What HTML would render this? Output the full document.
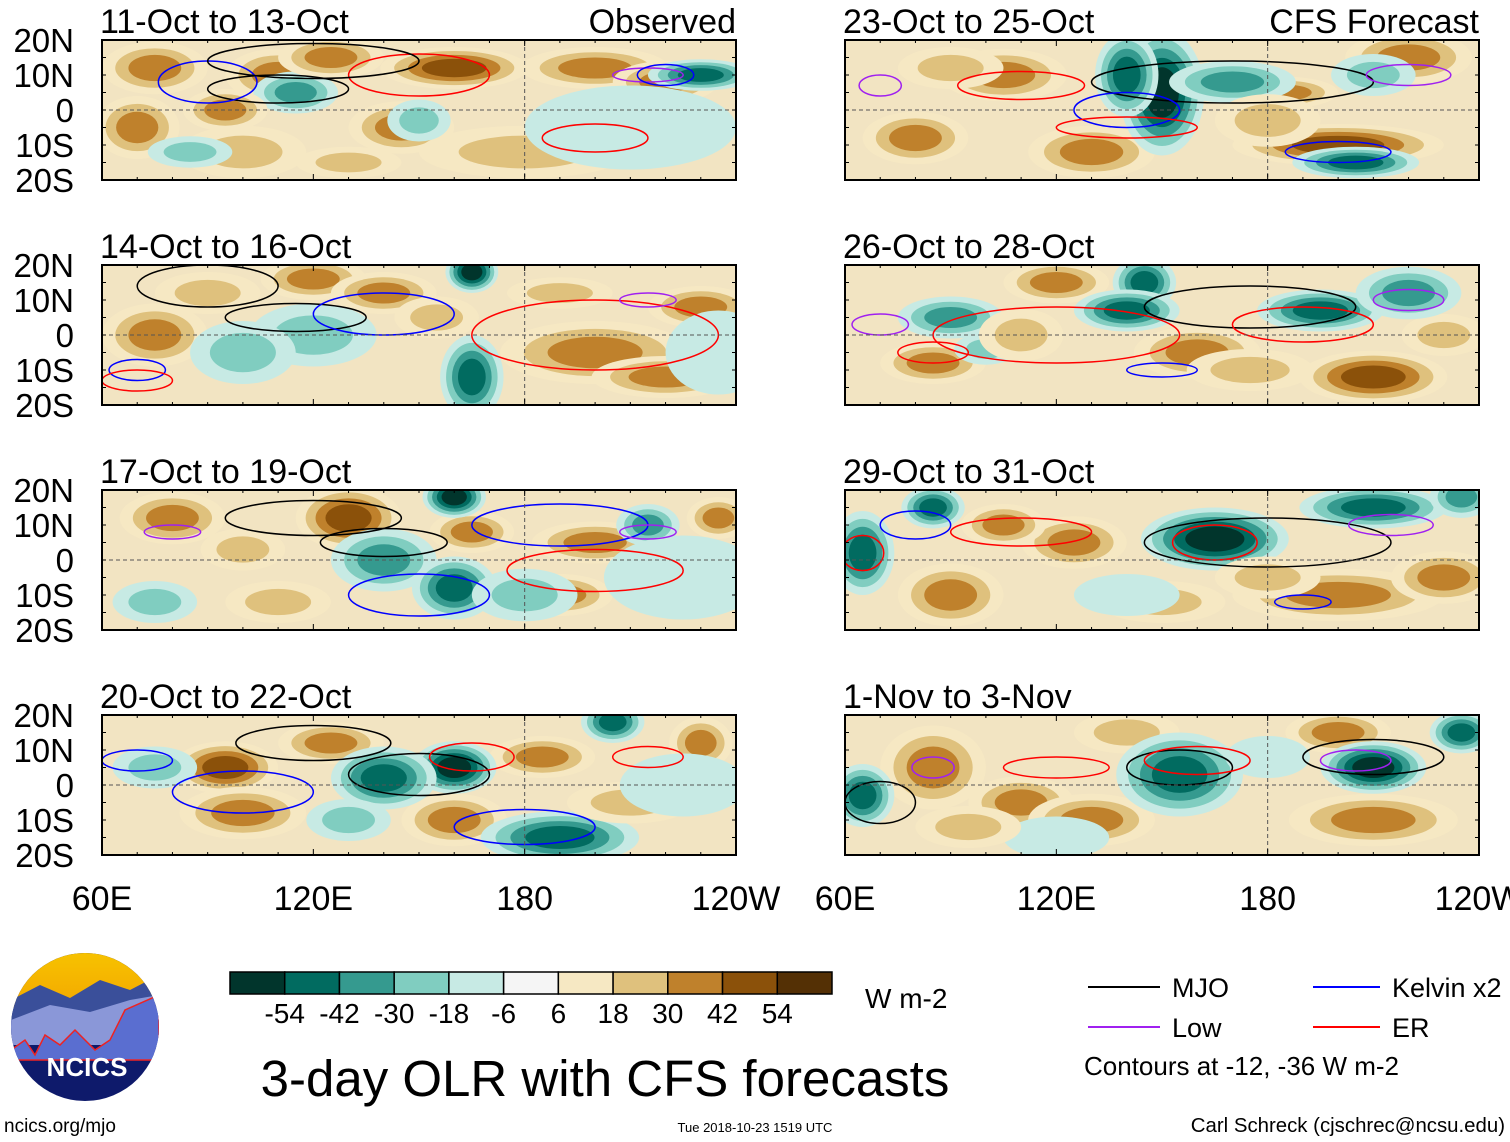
<!DOCTYPE html>
<html><head><meta charset="utf-8">
<style>
body{margin:0;background:#fff;}
svg{display:block;font-family:"Liberation Sans",sans-serif;}
</style></head>
<body>
<svg id="root" width="1510" height="1142" viewBox="0 0 1510 1142" xmlns="http://www.w3.org/2000/svg">
<defs>
<linearGradient id="sky" x1="0" y1="0" x2="0" y2="1"><stop offset="0" stop-color="#f7c200"/><stop offset="1" stop-color="#f3a800"/></linearGradient>
<clipPath id="logoclip"><ellipse cx="85" cy="1027" rx="74" ry="74"/></clipPath>
</defs>
<g id="panels"></g>
<g id="colorbar"></g>
<text x="865" y="1008" font-size="28">W m-2</text>
<text x="605" y="1096" font-size="51" text-anchor="middle">3-day OLR with CFS forecasts</text>
<g>
<line x1="1088" y1="987" x2="1160" y2="987" stroke="#000" stroke-width="2"/><text x="1172" y="997" font-size="27">MJO</text>
<line x1="1313" y1="987" x2="1380" y2="987" stroke="#0000ff" stroke-width="2"/><text x="1392" y="997" font-size="27">Kelvin x2</text>
<line x1="1088" y1="1027" x2="1160" y2="1027" stroke="#a020f0" stroke-width="2"/><text x="1172" y="1037" font-size="27">Low</text>
<line x1="1313" y1="1027" x2="1380" y2="1027" stroke="#ff0000" stroke-width="2"/><text x="1392" y="1037" font-size="27">ER</text>
<text x="1084" y="1075" font-size="26">Contours at -12, -36 W m-2</text>
</g>
<g clip-path="url(#logoclip)">
<rect x="11" y="953" width="148" height="148" fill="#0e1a6b"/>
<rect x="11" y="953" width="148" height="55" fill="url(#sky)"/>
<path d="M11 1000 L40 985 L70 998 L100 980 L130 990 L159 975 L159 1040 L11 1040Z" fill="#3a4f9a"/>
<path d="M11 1020 L50 1005 L90 1012 L130 1000 L159 995 L159 1045 L11 1045Z" fill="#8a97d8"/>
<path d="M11 1050 L25 1040 L35 1055 L45 1035 L60 1045 L75 1030 L95 1050 L110 1040 L125 1010 L159 995 L159 1060 L11 1060Z" fill="#5a6ed0" stroke="#e22" stroke-width="1.5"/>
<text x="87" y="1076" font-size="26" font-weight="bold" fill="#fff" text-anchor="middle">NCICS</text>
</g>
<text x="4" y="1132" font-size="19">ncics.org/mjo</text>
<text x="755" y="1132" font-size="13" text-anchor="middle">Tue 2018-10-23 1519 UTC</text>
<text x="1505" y="1132" font-size="20.4" text-anchor="end">Carl Schreck (cjschrec@ncsu.edu)</text>
</svg>
<script>
const levelColors=["#01352c","#016b60","#359a8f","#80cdc0","#c7eae4","#f5f5f5","#f6e8c3","#dfc17d","#bf812c","#8b510a","#543005"];
const levelLabels=["-54","-42","-30","-18","-6","6","18","30","42","54"];
const latTicks=["20N","10N","0","10S","20S"];
const lonTicks=["60E","120E","180","120W"];
const panelTitles=["11-Oct to 13-Oct","14-Oct to 16-Oct","17-Oct to 19-Oct","20-Oct to 22-Oct","23-Oct to 25-Oct","26-Oct to 28-Oct","29-Oct to 31-Oct","1-Nov to 3-Nov"];
// blobs: [lon, lat, value, rxDeg, ryDeg]
const blobs0=[[75,12,40,10,5],[110,10,35,10,5],[160,12,48,14,4],[200,12,40,14,4],[220,8,30,10,4],[70,-5,30,8,6],[145,-5,30,10,5],[100,-12,25,12,5],[180,-12,20,20,5],[115,5,-35,8,4],[230,10,-50,10,3],[150,-3,-30,6,4],[85,-12,-20,8,3],[125,15,38,10,4],[95,0,30,8,4],[130,-15,25,10,3],[210,-5,-10,20,8]];
const blobs1=[[75,0,40,10,6],[120,16,40,10,4],[140,12,35,10,4],[200,-5,40,18,6],[220,-12,30,14,4],[230,8,30,10,4],[90,12,25,10,4],[165,18,-55,5,4],[120,0,-30,12,6],[165,-12,-45,6,8],[100,-5,-20,10,6],[190,12,25,10,3],[155,5,20,8,4],[235,-5,-8,10,8]];
const blobs2=[[80,12,30,10,5],[130,12,45,10,6],[165,8,30,8,4],[200,5,30,12,4],[190,-10,40,10,4],[235,12,40,6,4],[110,-12,25,10,4],[160,18,-55,6,4],[140,0,-35,10,6],[160,-8,-45,8,6],[215,10,-35,6,4],[180,-10,-20,10,5],[75,-12,-20,8,4],[100,3,25,8,4],[225,-5,-8,15,8]];
const blobs3=[[95,5,45,10,5],[125,12,40,10,4],[185,8,30,10,4],[230,12,40,6,5],[160,-10,35,10,5],[100,-8,30,12,5],[190,-15,-45,15,5],[160,5,-55,8,5],[140,2,-45,10,6],[205,18,-50,6,4],[75,5,-25,8,4],[130,-10,-30,8,4],[210,-5,25,12,4],[225,0,-8,12,6]];
const blobs4=[[105,10,35,12,5],[80,-8,35,10,5],[130,-12,30,12,5],[200,-10,45,20,4],[220,15,40,12,5],[185,5,30,10,3],[150,5,-55,8,12],[140,10,-45,6,8],[170,8,-35,12,4],[205,-15,-45,12,3],[210,10,-25,8,4],[90,12,25,10,4],[180,-3,20,10,5]];
const blobs5=[[85,-8,40,10,4],[120,15,40,10,4],[160,-5,30,12,5],[210,-12,45,14,5],[230,0,25,8,4],[145,15,-50,6,5],[140,7,-45,10,4],[195,7,-45,12,4],[220,12,-40,10,5],[90,5,-40,10,4],[100,-4,-25,6,3],[175,-10,25,12,4],[110,0,20,8,5]];
const blobs6=[[90,-10,40,10,6],[125,5,35,10,5],[200,-10,40,20,5],[230,-5,30,10,5],[150,-12,20,12,4],[65,2,-50,6,8],[85,15,-45,6,4],[165,6,-55,14,6],[210,15,-50,14,4],[235,18,-40,6,4],[140,-10,-15,10,4],[105,10,30,8,4],[180,-5,25,10,4]];
const blobs7=[[85,5,40,10,8],[110,-5,35,10,5],[130,-10,40,12,5],[210,-10,40,16,5],[200,15,30,10,4],[140,15,25,10,4],[65,-3,-50,6,6],[155,3,-50,12,8],[210,5,-55,10,5],[235,15,-45,6,4],[120,-15,-15,10,4],[95,-12,25,10,4],[180,8,-15,8,4]];
const allBlobs=[blobs0,blobs1,blobs2,blobs3,blobs4,blobs5,blobs6,blobs7];
// contours: [lon, lat, rxDeg, ryDeg, type]
const contours0=[[110,6,20,4,"k"],[90,8,14,6,"b"],[150,10,20,6,"r"],[200,-8,15,4,"r"],[215,10,10,2,"p"],[220,10,8,3,"b"],[120,14,30,5,"k"]];
const contours1=[[115,5,20,4,"k"],[140,6,20,6,"b"],[200,0,35,10,"r"],[215,10,8,2,"p"],[70,-10,8,3,"b"],[70,-13,10,3,"r"],[90,14,20,6,"k"]];
const contours2=[[140,5,18,4,"k"],[120,12,25,5,"k"],[190,10,25,6,"b"],[215,8,8,2,"p"],[200,-3,25,6,"r"],[150,-10,20,6,"b"],[80,8,8,2,"p"]];
const contours3=[[150,3,20,6,"k"],[120,12,22,5,"k"],[165,8,12,4,"r"],[215,8,10,3,"r"],[70,7,10,3,"b"],[180,-12,20,5,"b"],[100,-2,20,6,"b"]];
const contours4=[[170,8,40,6,"k"],[140,0,15,5,"b"],[110,7,18,4,"r"],[200,-12,15,3,"b"],[220,10,12,3,"p"],[70,7,6,3,"p"],[140,-5,20,3,"r"]];
const contours5=[[175,8,30,6,"k"],[190,3,20,5,"r"],[120,0,35,8,"r"],[220,10,10,3,"p"],[70,3,8,3,"p"],[150,-10,10,2,"b"],[85,-5,10,3,"r"]];
const contours6=[[180,5,35,7,"k"],[165,5,12,5,"r"],[110,8,20,4,"r"],[215,10,12,3,"p"],[190,-12,8,2,"b"],[80,10,10,4,"b"],[65,2,6,5,"r"]];
const contours7=[[155,5,15,5,"k"],[160,7,15,4,"r"],[210,8,20,5,"k"],[205,7,10,3,"p"],[120,5,15,3,"r"],[70,-5,10,6,"k"],[85,5,6,3,"p"]];
const allContours=[contours0,contours1,contours2,contours3,contours4,contours5,contours6,contours7];

const NS="http://www.w3.org/2000/svg";
function mk(tag,attrs,parent){const e=document.createElementNS(NS,tag);for(const k in attrs)e.setAttribute(k,attrs[k]);parent.appendChild(e);return e;}
const PW=634,PH=140;
const panelX=[102,102,102,102,845,845,845,845];
const panelY=[40,265,490,715,40,265,490,715];
function levelIndex(v){let i=Math.floor((v+66)/12);return Math.max(0,Math.min(10,i));}
const cMap={k:"#000",b:"#0000ff",r:"#ff0000",p:"#a020f0"};
const root=document.getElementById("panels");
const defs=document.querySelector("defs");
for(let p=0;p<8;p++){
  const x0=panelX[p],y0=panelY[p];
  const xs=lon=>x0+(lon-60)/180*PW;
  const ys=lat=>y0+(20-lat)/40*PH;
  const cp=mk("clipPath",{id:"cp"+p},defs);
  mk("rect",{x:x0,y:y0,width:PW,height:PH},cp);
  const g=mk("g",{},root);
  
  
  const inner=mk("g",{"clip-path":"url(#cp"+p+")"},g);
  mk("rect",{x:x0,y:y0,width:PW,height:PH,fill:"#f2e4c2"},inner);
  for(const b of allBlobs[p]){
    const [lon,lat,v,rx,ry]=b;
    const L=levelIndex(v);
    const steps=v>=0?L-5:5-L;
    for(let s=1;s<=steps;s++){
      const idx=Math.max(0,Math.min(10,v>=0?5+s:5-s));
      const f=1-(s-1)/(steps)*0.75;
      const el=mk("ellipse",{cx:xs(lon),cy:ys(lat),rx:rx*PW/180*f*1.5,ry:ry*PH/40*f*1.5,fill:levelColors[idx]},inner);
      
      
    }
  }
  for(const c of allContours[p]){
    const [lon,lat,rx,ry,t]=c;
    const el=mk("ellipse",{cx:xs(lon),cy:ys(lat),rx:rx*PW/180,ry:ry*PH/40,fill:"none",stroke:cMap[t],"stroke-width":1.5},inner);
    
    
  }
  mk("line",{x1:x0,y1:ys(0),x2:x0+PW,y2:ys(0),stroke:"#555","stroke-dasharray":"4,3","stroke-width":1},inner);
  mk("line",{x1:xs(180),y1:y0,x2:xs(180),y2:y0+PH,stroke:"#555","stroke-dasharray":"4,3","stroke-width":1},inner);
  mk("rect",{x:x0,y:y0,width:PW,height:PH,fill:"none",stroke:"#000","stroke-width":2},g);
  for(let lon=60;lon<=240;lon+=10){const t=(lon%60==0)?6:3;
    mk("line",{x1:xs(lon),y1:y0,x2:xs(lon),y2:y0+t,stroke:"#000"},g);
    mk("line",{x1:xs(lon),y1:y0+PH,x2:xs(lon),y2:y0+PH-t,stroke:"#000"},g);}
  for(let lat=-20;lat<=20;lat+=5){
    mk("line",{x1:x0,y1:ys(lat),x2:x0+4,y2:ys(lat),stroke:"#000"},g);
    mk("line",{x1:x0+PW,y1:ys(lat),x2:x0+PW-4,y2:ys(lat),stroke:"#000"},g);}
  const tt=mk("text",{x:x0-2,y:y0-7,"font-size":34},g);tt.textContent=panelTitles[p];
  
  
  if(p==0||p==4){const r=mk("text",{x:x0+PW,y:y0-7,"font-size":34,"text-anchor":"end"},g);r.textContent=p==0?"Observed":"CFS Forecast";
    
    }
  if(p<4){latTicks.forEach((lt,i)=>{const t=mk("text",{x:74,y:y0+i*35+12,"font-size":33,"text-anchor":"end"},root);t.textContent=lt;
    
    });}
  if(p==3||p==7){lonTicks.forEach((lt,i)=>{const t=mk("text",{x:xs(60+i*60),y:910,"font-size":34,"text-anchor":"middle"},root);t.textContent=lt;
    
    });}
}
const cb=document.getElementById("colorbar");
const cbx=230,cbw=602/11;
levelColors.forEach((c,i)=>{const r=mk("rect",{x:cbx+i*cbw,y:972,width:cbw,height:22,fill:c,stroke:"#000","stroke-width":1.5},cb);
  
  });
levelLabels.forEach((l,i)=>{const t=mk("text",{x:cbx+(i+1)*cbw,y:1023,"font-size":28,"text-anchor":"middle"},cb);t.textContent=l;
  
  });
</script>
</body></html>
